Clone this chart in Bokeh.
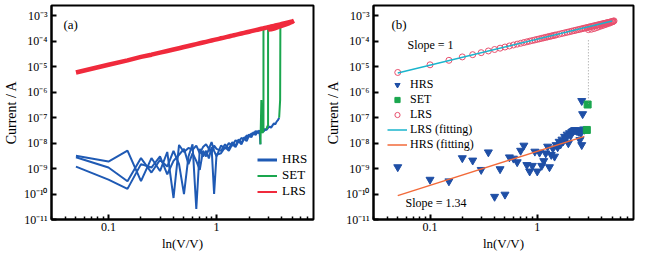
import math
from bokeh.plotting import figure
from bokeh.layouts import row
from bokeh.models import (FixedTicker, CustomJSTickFormatter, Label, Legend,
                          LegendItem, Range1d)
from bokeh.embed import file_html
from bokeh.resources import INLINE

SERIF = "Liberation Serif"
NAN = float("nan")

# ---------------- data ----------------
x_major = [0.1, 1]
x_minor = [0.03, 0.04, 0.05, 0.06, 0.07, 0.08, 0.09,
           0.2, 0.3, 0.4, 0.5, 0.6, 0.7, 0.8, 0.9,
           2, 3, 4, 5, 6, 7]
y_major = [1e-11, 1e-10, 1e-9, 1e-8, 1e-7, 1e-6, 1e-5, 1e-4, 1e-3]

# LRS sweep (forward then return), shared by both panels
lrs_v = [0.05, 0.10, 0.15, 0.20, 0.25, 0.30, 0.35, 0.40, 0.45, 0.50,
         0.55, 0.60, 0.65, 0.70, 0.75, 0.80, 0.85, 0.90, 0.95, 1.00,
         1.05, 1.10, 1.15, 1.20, 1.25, 1.30, 1.35, 1.40, 1.45, 1.50,
         1.60, 1.70, 1.80, 1.90, 2.00, 2.10, 2.20, 2.30, 2.40, 2.50,
         2.60, 2.70, 2.80, 2.90, 3.00, 3.10, 3.20, 3.30, 3.40, 3.50,
         3.60, 3.70, 3.80, 3.90, 4.00, 4.10, 4.20, 4.30, 4.40, 4.50,
         4.60, 4.70, 4.80, 4.90, 5.00, 5.10, 5.20,
         5.10, 5.00, 4.80, 4.60, 4.40, 4.20, 4.00, 3.80, 3.60, 3.40, 3.20, 3.00]
lrs_i = [6.0e-6, 1.2e-5, 1.8e-5, 2.45e-5, 3.0e-5, 3.6e-5, 4.2e-5, 4.8e-5, 5.4e-5, 6.0e-5,
         6.6e-5, 7.2e-5, 7.8e-5, 8.4e-5, 9.0e-5, 9.6e-5, 1.02e-4, 1.08e-4, 1.14e-4, 1.2e-4,
         1.26e-4, 1.32e-4, 1.38e-4, 1.44e-4, 1.5e-4, 1.56e-4, 1.62e-4, 1.68e-4, 1.74e-4, 1.8e-4,
         1.92e-4, 2.04e-4, 2.16e-4, 2.28e-4, 2.4e-4, 2.52e-4, 2.64e-4, 2.76e-4, 2.88e-4, 3.0e-4,
         3.12e-4, 3.24e-4, 3.36e-4, 3.48e-4, 3.6e-4, 3.72e-4, 3.84e-4, 3.96e-4, 4.08e-4, 4.2e-4,
         4.32e-4, 4.44e-4, 4.56e-4, 4.68e-4, 4.8e-4, 4.92e-4, 5.04e-4, 5.16e-4, 5.28e-4, 5.4e-4,
         5.52e-4, 5.64e-4, 5.76e-4, 5.88e-4, 6.0e-4, 6.2e-4, 6.4e-4,
         6.1e-4, 5.8e-4, 5.4e-4, 5.0e-4, 4.7e-4, 4.4e-4, 4.1e-4, 3.8e-4, 3.5e-4, 3.2e-4, 3.0e-4, 2.9e-4]

# panel (a): three HRS sweeps
hrs1_v = [0.05, 0.10, 0.15, 0.20, 0.25, 0.30, 0.35, 0.40, 0.45, 0.50,
          0.55, 0.60, 0.65, 0.70, 0.75, 0.80, 0.85, 0.90, 0.95, 1.00,
          1.10, 1.20, 1.30, 1.40, 1.50, 1.60, 1.70, 1.80, 1.90, 2.00,
          2.10, 2.20, 2.30, 2.40, 2.50, 2.55]
hrs1_i = [3.2e-9, 1.9e-9, 5.1e-9, 3.2e-10, 2.6e-9, 8e-10, 4.5e-9, 7e-11, 8.5e-9, 4.5e-9,
          6.5e-9, 5.5e-9, 8e-9, 4e-9, 7e-9, 9e-9, 6e-9, 1.1e-8, 5e-9, 3e-9,
          8e-9, 6e-9, 1e-8, 8e-9, 1.3e-8, 1.1e-8, 1.6e-8, 1.4e-8, 2e-8, 1.8e-8,
          2.4e-8, 2.2e-8, 3e-8, 2.6e-8, 3.2e-8, 9e-9]
hrs2_v = [0.05, 0.10, 0.15, 0.20, 0.25, 0.30, 0.35, 0.40, 0.45, 0.50,
          0.55, 0.60, 0.65, 0.70, 0.75, 0.80, 0.85, 0.90, 0.95, 1.00,
          1.10, 1.20, 1.30, 1.40, 1.50, 1.60, 1.70, 1.80, 1.90, 2.00,
          2.10, 2.20, 2.30, 2.40, 2.50, 2.60, 2.70, 2.80, 2.90]
hrs2_i = [2.8e-9, 1.1e-9, 3.2e-10, 2.6e-9, 7e-10, 2.2e-9, 1.2e-9, 5e-9, 1.5e-9, 1e-10,
          3e-9, 9e-9, 2.6e-11, 6e-9, 3e-9, 5e-9, 2.5e-9, 7e-9, 1e-10, 3.5e-9,
          4e-9, 7e-9, 5e-9, 9e-9, 7e-9, 1.2e-8, 9e-9, 1.5e-8, 1.2e-8, 2e-8,
          1.7e-8, 2.5e-8, 2.1e-8, 2.8e-8, 2.4e-8, 3e-8, 2.8e-8, 3.3e-8, 3.5e-8]
hrs3_v = [0.05, 0.10, 0.15, 0.20, 0.25, 0.30, 0.35, 0.40, 0.45, 0.50,
          0.55, 0.60, 0.65, 0.70, 0.75, 0.80, 0.85, 0.90, 0.95, 1.00,
          1.10, 1.20, 1.30, 1.40, 1.50, 1.60, 1.70, 1.80, 1.90, 2.00,
          2.10, 2.20, 2.30, 2.40, 2.50, 2.60, 2.70, 2.80, 2.90, 3.00,
          3.10, 3.20, 3.30, 3.40, 3.50, 3.60, 3.70, 3.80]
hrs3_i = [1.2e-9, 3.7e-10, 1.6e-10, 1.5e-9, 1.1e-9, 3e-9, 6e-10, 2e-9, 3.5e-9, 6e-9,
          1.5e-9, 4e-9, 2e-9, 9e-10, 5e-9, 3e-9, 6e-9, 4e-9, 8e-9, 6e-9,
          5e-9, 9e-9, 6e-9, 1.1e-8, 8e-9, 1.4e-8, 1e-8, 1.7e-8, 1.5e-8, 2.2e-8,
          1.9e-8, 2.7e-8, 2.3e-8, 3e-8, 2.6e-8, 3.2e-8, 3e-8, 3.6e-8, 3.3e-8, 4e-8,
          4.5e-8, 4e-8, 5e-8, 6e-8, 5.5e-8, 7e-8, 8e-8, 1e-7]
set1_v = [2.55, 2.60, 2.65, 2.72, 2.72]
set1_i = [9e-9, 5e-7, 2.5e-8, 3e-8, 3.2e-4]
set2_v = [2.90, 2.95, 3.00, 3.00]
set2_i = [3.5e-8, 4.5e-8, 5e-8, 3.4e-4]
set3_v = [3.80, 3.88, 3.90]
set3_i = [1e-7, 5e-7, 4.8e-4]

# panel (b): HRS / SET points and fits
hrs_b_v = [0.05, 0.10, 0.15, 0.20, 0.25, 0.30, 0.35, 0.40, 0.45, 0.50,
           0.55, 0.60, 0.65, 0.70, 0.75, 0.80, 0.85, 0.90, 0.95, 1.00,
           1.05, 1.10, 1.15, 1.20, 1.25, 1.30, 1.35, 1.40, 1.45, 1.50,
           1.55, 1.60, 1.65, 1.70, 1.75, 1.80, 1.85, 1.90, 1.95, 2.00,
           2.05, 2.10, 2.15, 2.20, 2.25, 2.30, 2.35, 2.40, 2.45, 2.50,
           2.55, 2.60, 2.60, 2.65, 2.70, 2.75]
hrs_b_i = [1.15e-9, 3.7e-10, 3.2e-10, 2.6e-9, 2.1e-9, 9e-10, 4.4e-9, 7.9e-11, 9.6e-10, 9.6e-11,
           2.8e-9, 2.5e-9, 1.8e-9, 5.1e-9, 8.1e-9, 1.4e-9, 7.8e-10, 1.3e-9, 4.7e-9, 7.8e-10,
           4.3e-9, 1.3e-9, 2e-9, 4e-9, 7.4e-9, 1.15e-9, 3.5e-9, 6.3e-9, 3e-9, 8.5e-9,
           7e-9, 1.15e-8, 9e-9, 1.4e-8, 1.2e-8, 1.8e-8, 1.5e-8, 2.2e-8, 1e-8, 2.5e-8,
           2e-8, 2.8e-8, 3e-8, 3.2e-8, 3.3e-8, 3.2e-8, 3e-8, 3.1e-8, 2.8e-8, 1.35e-8,
           2.5e-8, 8.5e-9, 4.6e-7, 1.4e-7, 3.5e-8, 3.4e-8]
set_b_v = [2.90, 2.95]
set_b_i = [3.3e-8, 3.3e-7]
lrs_fit_v = [0.05, 5.0]
lrs_fit_i = [5.7e-6, 6.3e-4]
hrs_fit_v = [0.05, 2.75]
hrs_fit_i = [8.7e-11, 1.85e-8]
set_jump_v = [3.0, 3.0]
set_jump_i = [1.1e-4, 3.5e-7]

assert len(hrs1_v) == len(hrs1_i) and len(hrs2_v) == len(hrs2_i)
assert len(hrs3_v) == len(hrs3_i) and len(hrs_b_v) == len(hrs_b_i)
assert len(lrs_v) == len(lrs_i)

BLUE = "#1f5ab4"
GREEN = "#1aa64e"
RED = "#f02a3c"
TRI = "#1f4fa6"
PINK = "#e8506e"
CYAN = "#1ab4cc"
ORANGE = "#f26a3a"

SUP = ("const s={'-':'\u207b','0':'\u2070','1':'\u00b9','2':'\u00b2','3':'\u00b3',"
       "'4':'\u2074','5':'\u2075','6':'\u2076','7':'\u2077','8':'\u2078','9':'\u2079'};"
       "const e=Math.round(Math.log10(tick));"
       "return '10'+String(e).split('').map(c=>s[c]).join('');")


def make_fig(width, left, right):
    p = figure(width=width, height=253, x_axis_type="log", y_axis_type="log",
               x_range=Range1d(0.0297, 7.9), y_range=Range1d(1e-11, 2.57e-3),
               output_backend="svg", toolbar_location=None,
               min_border_left=left, min_border_right=right,
               min_border_top=5, min_border_bottom=33)
    p.grid.visible = False
    p.outline_line_color = "black"
    p.outline_line_width = 2
    p.background_fill_color = "white"
    p.border_fill_color = "white"
    p.xaxis.ticker = FixedTicker(ticks=x_major, minor_ticks=x_minor)
    p.yaxis.ticker = FixedTicker(ticks=y_major, minor_ticks=[])
    p.xaxis.formatter = CustomJSTickFormatter(
        code="return tick < 1 ? tick.toFixed(1) : tick.toFixed(0);")
    p.yaxis.formatter = CustomJSTickFormatter(code=SUP)
    for ax in (p.xaxis, p.yaxis):
        ax.axis_line_width = 2
        ax.axis_line_color = "black"
        ax.major_tick_in = 5
        ax.major_tick_out = 0
        ax.minor_tick_in = 3
        ax.minor_tick_out = 0
        ax.major_tick_line_width = 2
        ax.minor_tick_line_width = 1.5
        ax.major_label_text_font = SERIF
        ax.major_label_text_font_size = "12px"
        ax.major_label_text_color = "black"
        ax.major_label_standoff = 4
        ax.axis_label_text_font = SERIF
        ax.axis_label_text_font_style = "normal"
        ax.axis_label_text_color = "black"
        ax.axis_label_standoff = 2
    p.xaxis.major_label_standoff = 3
    p.xaxis.axis_label = "ln(V/V)"
    p.xaxis.axis_label_text_font_size = "13px"
    p.yaxis.axis_label = "Current / A"
    p.yaxis.axis_label_text_font_size = "14px"
    return p


def note(p, x, y, txt, size="12px"):
    p.add_layout(Label(x=x, y=y, x_units="screen", y_units="screen", text=txt,
                       text_align="left", text_baseline="middle",
                       text_font=SERIF, text_font_size=size, text_color="black"))


def legend(items, loc, h, size, standoff):
    return Legend(items=items, location=loc, orientation="vertical",
                  background_fill_alpha=0, border_line_alpha=0,
                  padding=0, margin=0, spacing=0, glyph_width=20,
                  glyph_height=h, label_height=h, label_standoff=standoff,
                  label_text_font=SERIF, label_text_font_size=size,
                  label_text_color="black")


# ---------------- panel (a) ----------------
pa = make_fig(322, 46, 9)
for v, i in ((hrs1_v, hrs1_i), (hrs2_v, hrs2_i), (hrs3_v, hrs3_i)):
    pa.line(v, i, line_color=BLUE, line_width=2)
for v, i in ((set1_v, set1_i), (set2_v, set2_i), (set3_v, set3_i)):
    pa.line(v, i, line_color=GREEN, line_width=2)
pa.line(lrs_v, lrs_i, line_color=RED, line_width=4.5)

# legend-only swatches (NaN data, nothing drawn in the frame)
lg_hrs = pa.line([NAN], [NAN], line_color=BLUE, line_width=3)
lg_set = pa.line([NAN], [NAN], line_color=GREEN, line_width=2)
lg_lrs = pa.line([NAN], [NAN], line_color=RED, line_width=2)
pa.add_layout(legend([LegendItem(label="HRS", renderers=[lg_hrs]),
                      LegendItem(label="SET", renderers=[lg_set]),
                      LegendItem(label="LRS", renderers=[lg_lrs])],
                     (206, 20), 15, "13px", 5))
note(pa, 12, 195, "(a)", "13px")

# ---------------- panel (b) ----------------
pb = make_fig(326, 46, 15)
r_lrs = pb.scatter(lrs_v, lrs_i, marker="circle", size=6, fill_alpha=0,
                   line_color=PINK, line_width=1)
r_hrs = pb.scatter(hrs_b_v, hrs_b_i, marker="inverted_triangle", size=8,
                   fill_color=TRI, line_color=TRI)
r_set = pb.scatter(set_b_v, set_b_i, marker="square", size=7,
                   fill_color=GREEN, line_color=GREEN)
pb.line(set_jump_v, set_jump_i, line_color="#999999", line_width=1, line_dash="1 2")
r_lfit = pb.line(lrs_fit_v, lrs_fit_i, line_color=CYAN, line_width=1.5)
r_hfit = pb.line(hrs_fit_v, hrs_fit_i, line_color=ORANGE, line_width=1.5)

pb.add_layout(legend([LegendItem(label="HRS", renderers=[r_hrs]),
                      LegendItem(label="SET", renderers=[r_set]),
                      LegendItem(label="LRS", renderers=[r_lrs]),
                      LegendItem(label="LRS (fitting)", renderers=[r_lfit]),
                      LegendItem(label="HRS (fitting)", renderers=[r_hfit])],
                     (14, 67), 13, "12px", 3))
note(pb, 18, 195, "(b)", "13px")
note(pb, 34, 175, "Slope = 1")
note(pb, 32, 17, "Slope = 1.34")

layout = row(pa, pb)
open("out.html", "w").write(file_html(layout, INLINE))
